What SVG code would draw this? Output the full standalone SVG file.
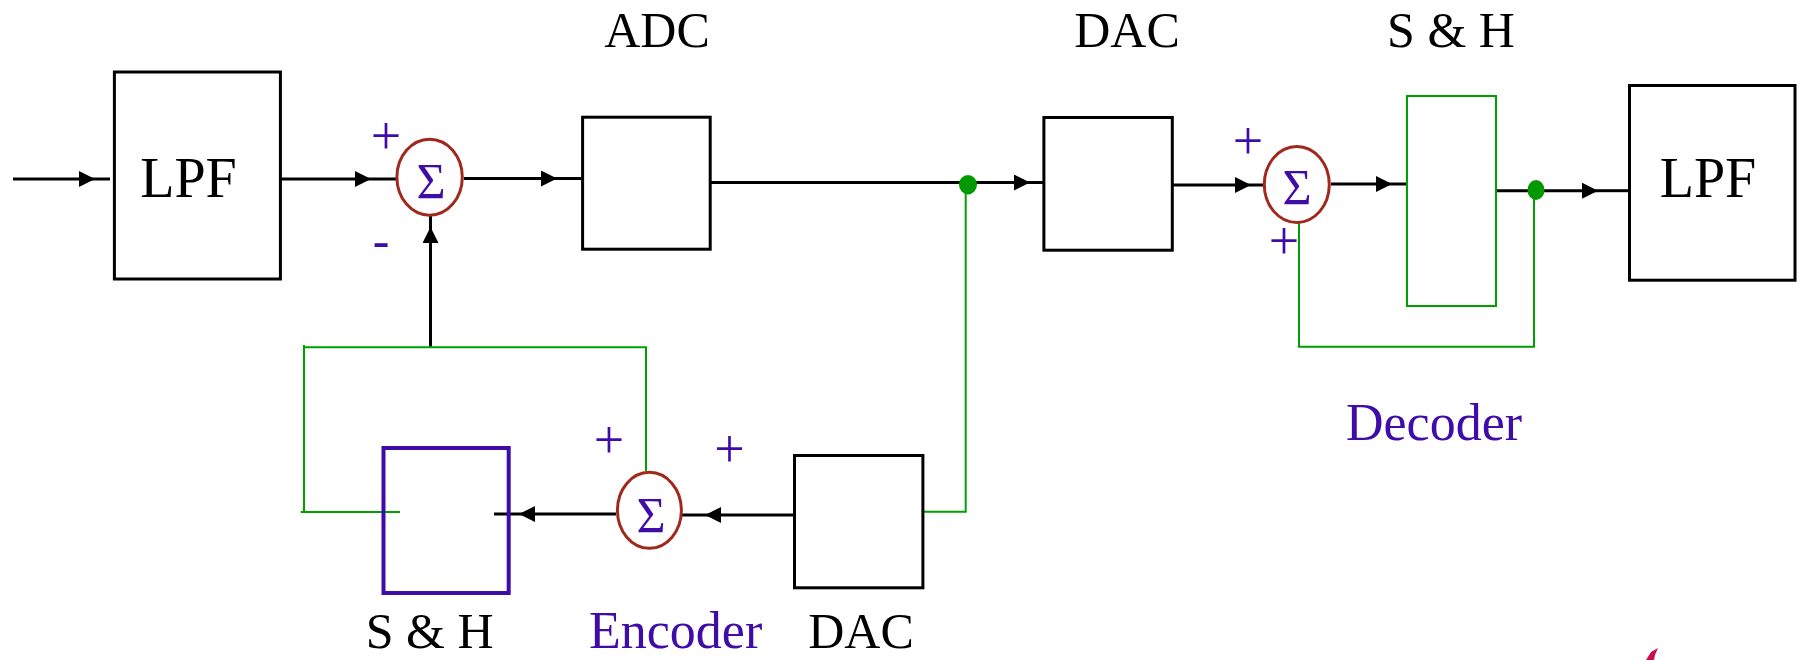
<svg xmlns="http://www.w3.org/2000/svg" width="1799" height="660" viewBox="0 0 1799 660">
<style>
.blk{fill:#fff;stroke:#000;stroke-width:3}
.wire{fill:none;stroke:#000;stroke-width:3}
.gw{fill:none;stroke:#00A000;stroke-width:2}
.sum{fill:#fff;stroke:#A0281C;stroke-width:3}
.t{font-family:"Liberation Serif",serif;fill:#000;text-anchor:middle}
.p{font-family:"Liberation Serif",serif;fill:#3F0CA8;text-anchor:middle}
</style>
<defs>
<marker id="ah" markerUnits="userSpaceOnUse" markerWidth="18" markerHeight="18" refX="16" refY="8" orient="auto">
<path d="M0,0 L16,8 L0,16 z" fill="#000"/>
</marker>
</defs>
<rect width="1799" height="660" fill="#fff"/>
<g id="connectors">
<path class="wire" d="M13,179 H95" marker-end="url(#ah)"/>
<path class="wire" d="M95,179 H110"/>
<path class="wire" d="M280,179 H371" marker-end="url(#ah)"/>
<path class="wire" d="M371,179 H397"/>
<path class="wire" d="M464,178.5 H557" marker-end="url(#ah)"/>
<path class="wire" d="M557,178.5 H582"/>
<path class="wire" d="M711,182.5 H1030" marker-end="url(#ah)"/>
<path class="wire" d="M1030,182.5 H1044"/>
<path class="wire" d="M1173,185 H1251" marker-end="url(#ah)"/>
<path class="wire" d="M1251,185 H1264"/>
<path class="wire" d="M1331,184 H1392" marker-end="url(#ah)"/>
<path class="wire" d="M1392,184 H1407"/>
<path class="wire" d="M1496,190.7 H1598" marker-end="url(#ah)"/>
<path class="wire" d="M1598,190.7 H1628"/>
<path class="gw" d="M1534,199 V346.7 H1299 V222"/>
<path class="wire" d="M430.5,346.7 V227" marker-end="url(#ah)"/>
<path class="wire" d="M430.5,215 V227"/>
<path class="gw" d="M304,345 V512 M300.7,512 H400 M304,347.3 H646 V471"/>
<path class="wire" d="M616,514 H519" marker-end="url(#ah)"/>
<path class="wire" d="M519,514 H494"/>
<path class="wire" d="M793,515 H705" marker-end="url(#ah)"/>
<path class="wire" d="M705,515 H682"/>
<path class="gw" d="M922,511.7 H965.7 V185"/>
<ellipse cx="968" cy="184.7" rx="9" ry="9.7" fill="#009900"/>
<ellipse cx="1536" cy="190" rx="8.5" ry="10" fill="#009900"/>
</g>
<g id="lpf1">
<rect class="blk" x="114.4" y="72" width="166" height="207"/>
<text class="t" x="188.5" y="197" font-size="56">LPF</text>
</g>
<g id="sum1">
<ellipse class="sum" cx="429.6" cy="177.2" rx="32.7" ry="38"/>
<text class="p" x="431" y="198" font-size="50">Σ</text>
<text class="p" x="386" y="154" font-size="54">+</text>
<text class="p" x="381" y="257" font-size="50">-</text>
</g>
<g id="adc">
<rect class="blk" x="582.6" y="117.2" width="127.6" height="132"/>
<text class="t" x="657" y="47" font-size="50">ADC</text>
</g>
<g id="dac1">
<rect class="blk" x="1043.9" y="117.5" width="128.4" height="132.7"/>
<text class="t" x="1127" y="47" font-size="50">DAC</text>
</g>
<g id="sum2">
<ellipse class="sum" cx="1296.8" cy="184.5" rx="32.5" ry="38"/>
<text class="p" x="1297" y="204" font-size="50">Σ</text>
<text class="p" x="1248" y="159" font-size="54">+</text>
<text class="p" x="1284" y="259" font-size="54">+</text>
</g>
<g id="sh1">
<rect x="1407" y="96" width="89" height="210" fill="none" stroke="#00A000" stroke-width="2"/>
<text class="t" x="1451" y="47" font-size="50">S &amp; H</text>
</g>
<g id="lpf2">
<rect class="blk" x="1629.5" y="85.5" width="165.5" height="194.7"/>
<text class="t" x="1708" y="197" font-size="56">LPF</text>
</g>
<g id="decoder-label">
<text class="p" x="1434" y="440" font-size="52">Decoder</text>
</g>
<g id="sh2">
<rect x="383.5" y="448" width="125.2" height="145" fill="none" stroke="#3F0CA8" stroke-width="4"/>
<text class="t" x="429.6" y="648" font-size="50">S &amp; H</text>
</g>
<g id="sum3">
<ellipse class="sum" cx="649.4" cy="510.3" rx="32" ry="38"/>
<text class="p" x="651" y="532" font-size="50">Σ</text>
<text class="p" x="609" y="458" font-size="54">+</text>
<text class="p" x="729.5" y="467" font-size="54">+</text>
</g>
<g id="dac2">
<rect class="blk" x="794.5" y="455.5" width="128.4" height="132.3"/>
<text class="t" x="861" y="648" font-size="50">DAC</text>
</g>
<g id="encoder-label">
<text class="p" x="675.6" y="648" font-size="52">Encoder</text>
</g>
<path d="M1646,660 L1651,652 L1658,648 L1655,655 L1654,660 z" fill="#C8104C"/>
</svg>
